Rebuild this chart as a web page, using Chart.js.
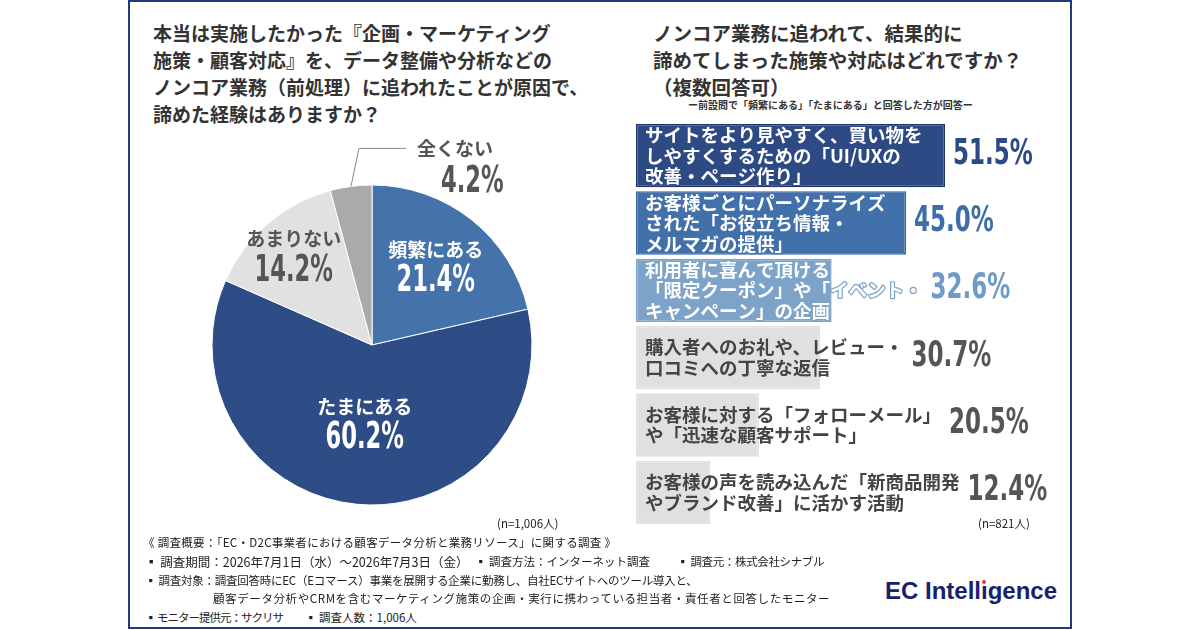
<!DOCTYPE html>
<html lang="ja">
<head>
<meta charset="utf-8">
<script src="https://cdn.jsdelivr.net/npm/chart.js@4.4.1/dist/chart.umd.min.js"></script>
<style>
  body { margin: 0; width: 1200px; height: 630px; background: #fff; position: relative; overflow: hidden;
         font-family: "Noto Sans CJK JP", "Noto Sans", sans-serif; color: #333; }
  .panel { position: absolute; left: 128px; top: 0; width: 944px; height: 629px; border: 2px solid #1e3a7b; box-sizing: border-box; }
  .abs { position: absolute; white-space: nowrap; }
  .title { font-size: 19px; line-height: 27px; font-weight: 700; color: #333; }
  .note { font-size: 10px; font-weight: 700; color: #333; }
  .foot { font-size: 11.5px; line-height: 19px; color: #222; }
  .logo { font-family: "Liberation Sans", Arial, sans-serif; font-weight: 700; font-size: 24px; color: #18216f; }
  .dotless { position: relative; }
  .dotless i { position: absolute; left: 1px; top: 3px; width: 4px; height: 4px; border-radius: 2px; background: #e8391d; }
  canvas { position: absolute; }
</style>
</head>
<body>
<div class="panel"></div>

<div class="abs title" style="left:153px; top:19px;">本当は実施したかった『企画・マーケティング<br>施策・顧客対応』を、データ整備や分析などの<br>ノンコア業務（前処理）に追われたことが原因で、<br>諦めた経験はありますか？</div>

<div class="abs title" style="left:653px; top:19px; font-size:19.5px;">ノンコア業務に追われて、結果的に<br>諦めてしまった施策や対応はどれですか？<br>（複数回答可）</div>
<div class="abs note" style="left:688px; top:97px;">ー前設問で「頻繁にある」「たまにある」と回答した方が回答ー</div>

<canvas id="pie" width="480" height="430" style="left:132px; top:130px;"></canvas>
<canvas id="bar" width="440" height="412" style="left:630px; top:118px;"></canvas>

<div class="abs foot" style="left:497px; top:514px;">(n=1,006人)</div>
<div class="abs foot" style="left:978px; top:514px;">(n=821人)</div>
<div class="abs foot" style="left:143px; top:533px; letter-spacing:0.3px;">《 調査概要：「EC・D2C事業者における顧客データ分析と業務リソース」に関する調査 》</div>
<div class="abs foot" style="left:145px; top:552px; font-size:12.5px;">▪ 調査期間：2026年7月1日（水）～2026年7月3日（金）</div>
<div class="abs foot" style="left:475px; top:552px;">▪ 調査方法：インターネット調査</div>
<div class="abs foot" style="left:677px; top:552px; letter-spacing:-0.35px;">▪ 調査元：株式会社シナブル</div>
<div class="abs foot" style="left:145px; top:571px; letter-spacing:-0.25px;">▪ 調査対象：調査回答時にEC（Eコマース）事業を展開する企業に勤務し、自社ECサイトへのツール導入と、</div>
<div class="abs foot" style="left:213px; top:589px; letter-spacing:0.6px;">顧客データ分析やCRMを含むマーケティング施策の企画・実行に携わっている担当者・責任者と回答したモニター</div>
<div class="abs foot" style="left:145px; top:608px; letter-spacing:-1px;">▪ モニター提供元：サクリサ</div>
<div class="abs foot" style="left:305px; top:608px;">▪ 調査人数：1,006人</div>

<div class="abs logo" style="left:885px; top:577px;">EC Intell<span class="dotless">ı<i></i></span>gence</div>

<script>
// ---- データ ----
const pieLabels = ['頻繁にある', 'たまにある', 'あまりない', '全くない'];
const pieValues = [21.4, 60.2, 14.2, 4.2];

const barLabels = [
  ['サイトをより見やすく、買い物を', 'しやすくするための「UI/UXの', '改善・ページ作り」'],
  ['お客様ごとにパーソナライズ', 'された「お役立ち情報・', 'メルマガの提供」'],
  ['利用者に喜んで頂ける', '「限定クーポン」や「イベント・', 'キャンペーン」の企画'],
  ['購入者へのお礼や、レビュー・', '口コミへの丁寧な返信'],
  ['お客様に対する「フォローメール」', 'や「迅速な顧客サポート」'],
  ['お客様の声を読み込んだ「新商品開発', 'やブランド改善」に活かす活動']
];
const barValues = [51.5, 45.0, 32.6, 30.7, 20.5, 12.4];

// ---- スタイル ----
const pieColors = ['#4472ab', '#2e4c85', '#e1e1e1', '#aaaaaa'];
const pieTextColors = ['#ffffff', '#ffffff', '#555555', '#555555'];
const pieLabelRadius = [0.64, 0.48, 0.75, null]; // null = 外側に引き出し線

const barColors = ['#2e4a84', '#4270ab', '#7ea3c9', '#e0e0e0', '#e0e0e0', '#e0e0e0'];
const barBorders = ['#1f3468', '#3a64a0', '#7ea3c9', '#e0e0e0', '#e0e0e0', '#e0e0e0'];
const barTextColors = ['#ffffff', '#ffffff', '#ffffff', '#444444', '#444444', '#444444'];
const barValueColors = ['#2b4a86', '#3e6ea9', '#6e9bc8', '#555555', '#555555', '#555555'];

const JP = '"Noto Sans CJK JP", "Noto Sans", sans-serif';
const NUM = '"Liberation Sans Narrow", "DejaVu Sans Condensed", "Liberation Sans", sans-serif';

// 数値は細長いフォント風に横方向を詰めて描く
function drawNum(ctx, text, x, y, size, color, align, sx) {
  ctx.save();
  ctx.font = `bold ${size}px ${NUM}`;
  ctx.fillStyle = color;
  ctx.textBaseline = 'middle';
  const w = ctx.measureText(text).width * sx;
  let left = x;
  if (align === 'center') left = x - w / 2;
  ctx.translate(left, y);
  ctx.scale(sx, 1);
  ctx.textAlign = 'left';
  ctx.fillText(text, 0, 0);
  ctx.restore();
  return w;
}

// 円グラフのラベル
const pieLabelPlugin = {
  id: 'pieLabels',
  afterDatasetsDraw(chart) {
    const ctx = chart.ctx;
    chart.getDatasetMeta(0).data.forEach((arc, i) => {
      const mid = (arc.startAngle + arc.endAngle) / 2;
      const r = arc.outerRadius;
      const f = pieLabelRadius[i];
      const txt = pieValues[i].toFixed(1) + '%';
      ctx.save();
      ctx.textBaseline = 'middle';
      ctx.textAlign = 'center';
      ctx.font = `bold 19px ${JP}`;
      ctx.fillStyle = pieTextColors[i];
      if (f !== null) {
        const x = arc.x + Math.cos(mid) * r * f;
        const y = arc.y + Math.sin(mid) * r * f;
        ctx.fillText(pieLabels[i], x, y - 15);
        drawNum(ctx, txt, x, y + 17, 37, pieTextColors[i], 'center', 0.68);
      } else {
        const sx = arc.x + Math.cos(mid) * r;
        const sy = arc.y + Math.sin(mid) * r;
        const ex = sx + 8, ey = sy - 38;
        ctx.strokeStyle = '#8a8a8a';
        ctx.lineWidth = 1;
        ctx.beginPath();
        ctx.moveTo(sx, sy);
        ctx.lineTo(ex, ey);
        ctx.lineTo(ex + 47, ey);
        ctx.stroke();
        ctx.textAlign = 'left';
        ctx.fillText(pieLabels[i], ex + 58, ey);
        drawNum(ctx, txt, ex + 82, ey + 34, 37, pieTextColors[i], 'left', 0.68);
      }
      ctx.restore();
    });
  }
};

new Chart(document.getElementById('pie'), {
  type: 'pie',
  data: {
    labels: pieLabels,
    datasets: [{
      data: pieValues,
      backgroundColor: pieColors,
      borderColor: '#ffffff',
      borderWidth: 1
    }]
  },
  options: {
    responsive: false,
    animation: false,
    radius: 160,
    plugins: { legend: { display: false }, tooltip: { enabled: false } }
  },
  plugins: [pieLabelPlugin]
});

// 棒グラフの中のテキストと数値
const barTextPlugin = {
  id: 'barText',
  afterDatasetsDraw(chart) {
    const ctx = chart.ctx;
    const lh = 20.5;
    chart.getDatasetMeta(0).data.forEach((bar, i) => {
      const lines = barLabels[i];
      const x0 = bar.base + 9;
      let y = bar.y - (lines.length - 1) * lh / 2;
      ctx.save();
      ctx.font = `bold 18.5px ${JP}`;
      ctx.textBaseline = 'middle';
      ctx.textAlign = 'left';
      let maxW = 0;
      lines.forEach(line => {
        if (i < 3) {
          ctx.strokeStyle = barColors[i];
          ctx.lineWidth = 2.5;
          ctx.lineJoin = 'round';
          ctx.strokeText(line, x0, y);
        }
        ctx.fillStyle = barTextColors[i];
        ctx.fillText(line, x0, y);
        maxW = Math.max(maxW, ctx.measureText(line).width);
        y += lh;
      });
      const vx = Math.max(bar.x, x0 + maxW) + 8;
      drawNum(ctx, barValues[i].toFixed(1) + '%', vx, bar.y - 1, 35, barValueColors[i], 'left', 0.73);
      ctx.restore();
    });
  }
};

new Chart(document.getElementById('bar'), {
  type: 'bar',
  data: {
    labels: barLabels,
    datasets: [{
      data: barValues,
      backgroundColor: barColors,
      borderColor: barBorders,
      borderWidth: 1.5,
      borderSkipped: false,
      barPercentage: 0.94,
      categoryPercentage: 1
    }]
  },
  options: {
    indexAxis: 'y',
    responsive: false,
    animation: false,
    layout: { padding: { left: 6, right: 2, top: 4, bottom: 4 } },
    scales: {
      x: { display: false, min: 0, max: 72 },
      y: { display: false }
    },
    plugins: { legend: { display: false }, tooltip: { enabled: false } }
  },
  plugins: [barTextPlugin]
});
</script>
</body>
</html>
